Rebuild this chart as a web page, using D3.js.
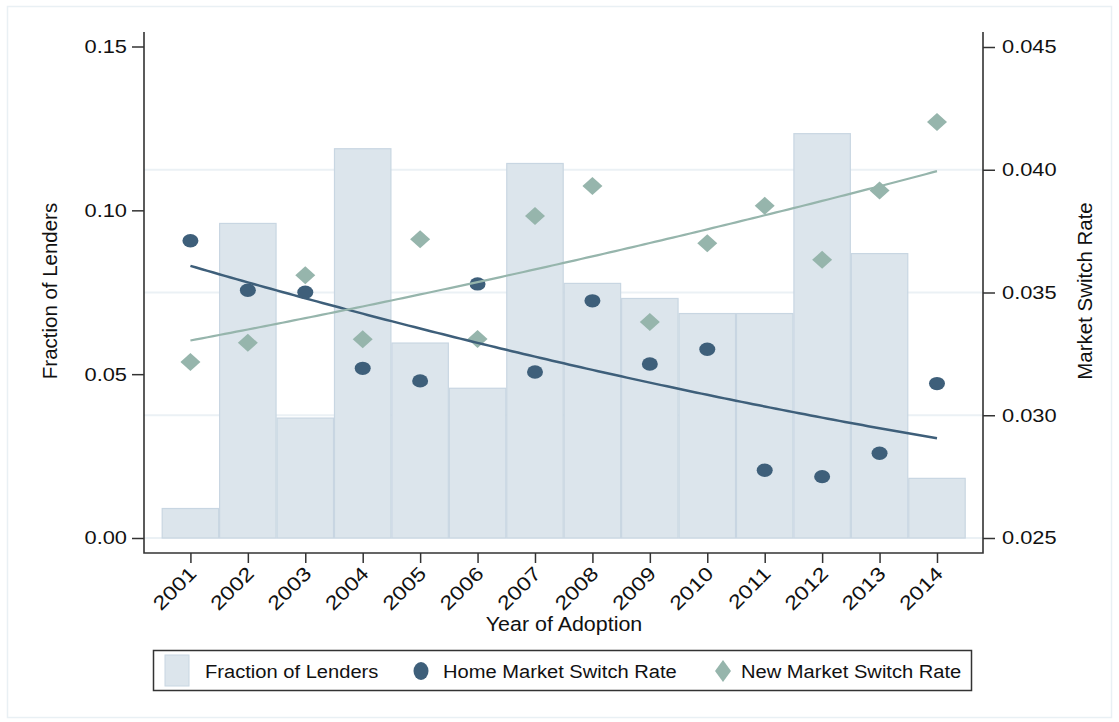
<!DOCTYPE html>
<html>
<head>
<meta charset="utf-8">
<script src="https://cdn.jsdelivr.net/npm/d3@7"></script>
<style>
  body { margin: 0; background: #fff; }
  svg text { font-family: "Liberation Sans", Arial, Helvetica, sans-serif; fill: #111; }
</style>
</head>
<body>
<div id="chart"></div>
<script>
// DATA
const years = [2001, 2002, 2003, 2004, 2005, 2006, 2007, 2008, 2009, 2010, 2011, 2012, 2013, 2014];
const fractionLenders = [0.0090, 0.0960, 0.0366, 0.1188, 0.0595, 0.0457, 0.1143, 0.0777, 0.0731, 0.0685, 0.0685, 0.1234, 0.0868, 0.0182];
const homeRate = [0.03711, 0.03509, 0.03501, 0.03191, 0.03140, 0.03535, 0.03176, 0.03466, 0.03209, 0.03269, 0.02776, 0.02750, 0.02845, 0.03129];
const newRate = [0.03217, 0.03295, 0.03570, 0.03310, 0.03717, 0.03311, 0.03812, 0.03934, 0.03380, 0.03701, 0.03853, 0.03633, 0.03915, 0.04194];
const leftTicks = [0, 0.05, 0.10, 0.15];
const rightTicks = [0.025, 0.030, 0.035, 0.040, 0.045];
const gridTicks = [0.025, 0.030, 0.035, 0.040];
const legendLabels = ['Fraction of Lenders', 'Home Market Switch Rate', 'New Market Switch Rate'];

// COLORS
const barFill = '#dce5ec';
const barStroke = '#c8d6e2';
const homeColor = '#3e5f7a';
const newColor = '#96b5ac';
const gridColor = '#ebf1f5';
const axisColor = '#333';

const W = 1119, H = 722;
const svg = d3.select('#chart').append('svg').attr('width', W).attr('height', H);

// outer frame
svg.append('rect').attr('x', 7.5).attr('y', 6.5).attr('width', 1104).attr('height', 711)
   .attr('fill', 'none').attr('stroke', '#e9f0f4').attr('stroke-width', 1.5);

// scales
const x = d3.scaleLinear().domain([2000.5, 2014.5]).range([161.7, 965.7]);
const yL = d3.scaleLinear().domain([0, 0.15]).range([538, 46.5]);
const yR = d3.scaleLinear().domain([0.025, 0.045]).range([538, 47]);
const plotL = 144, plotR = 983, plotTop = 32, plotBot = 553;

// gridlines (right axis)
svg.append('g').selectAll('line').data(gridTicks).enter().append('line')
   .attr('x1', plotL).attr('x2', plotR)
   .attr('y1', d => yR(d)).attr('y2', d => yR(d))
   .attr('stroke', gridColor).attr('stroke-width', 2);

// bars
svg.append('g').selectAll('rect').data(years).enter().append('rect')
   .attr('x', d => x(d - 0.5) + 0.5)
   .attr('width', d => x(d + 0.5) - x(d - 0.5) - 1)
   .attr('y', (d, i) => yL(fractionLenders[i]))
   .attr('height', (d, i) => yL(0) - yL(fractionLenders[i]))
   .attr('fill', barFill).attr('stroke', barStroke).attr('stroke-width', 1.2);

// quadratic fit, like stata qfit
function qfit(xs, ys) {
  const c = d3.mean(xs);
  let s = [0, 0, 0, 0, 0], b = [0, 0, 0];
  xs.forEach(function(xv, i) {
    const t = xv - c;
    for (let k = 0; k < 5; k++) s[k] += Math.pow(t, k);
    for (let k = 0; k < 3; k++) b[k] += Math.pow(t, k) * ys[i];
  });
  // solve 3x3 with cramer
  const M = [[s[0], s[1], s[2]], [s[1], s[2], s[3]], [s[2], s[3], s[4]]];
  const det = m => m[0][0]*(m[1][1]*m[2][2]-m[1][2]*m[2][1]) - m[0][1]*(m[1][0]*m[2][2]-m[1][2]*m[2][0]) + m[0][2]*(m[1][0]*m[2][1]-m[1][1]*m[2][0]);
  const D = det(M);
  const coef = [0, 1, 2].map(function(j) {
    const Mj = M.map((row, r) => row.map((v, col) => col === j ? b[r] : v));
    return det(Mj) / D;
  });
  return xv => coef[0] + coef[1] * (xv - c) + coef[2] * (xv - c) * (xv - c);
}
const homeFit = qfit(years, homeRate);
const newFit = qfit(years, newRate);
const fitX = d3.range(0, 131).map(k => years[0] + k * (years[years.length - 1] - years[0]) / 130);

const line = f => d3.line().x(d => x(d)).y(d => yR(f(d)))(fitX);

// markers
svg.append('g').selectAll('ellipse').data(years).enter().append('ellipse')
   .attr('cx', d => x(d)).attr('cy', (d, i) => yR(homeRate[i]))
   .attr('rx', 8).attr('ry', 6.7).attr('fill', homeColor);

svg.append('g').selectAll('path').data(years).enter().append('path')
   .attr('transform', (d, i) => 'translate(' + x(d) + ',' + yR(newRate[i]) + ')')
   .attr('d', 'M0,-9L10,0L0,9L-10,0Z').attr('fill', newColor);

// fit lines
svg.append('path').attr('d', line(homeFit)).attr('fill', 'none').attr('stroke', homeColor).attr('stroke-width', 2.5);
svg.append('path').attr('d', line(newFit)).attr('fill', 'none').attr('stroke', newColor).attr('stroke-width', 2.2);

// axes
function styleAxis(g) {
  g.select('.domain').remove();
  g.selectAll('.tick line').attr('stroke', axisColor).attr('stroke-width', 1.5);
  g.selectAll('.tick text').style('font-size', '18.5px').attr('fill', '#111');
}

const gL = svg.append('g').attr('transform', 'translate(' + plotL + ',0)')
   .call(d3.axisLeft(yL).tickValues(leftTicks).tickFormat(d3.format('.2f')).tickSize(12).tickPadding(5));
styleAxis(gL);
gL.selectAll('.tick text').attr('x', 0).attr('transform', 'translate(-17,0) scale(1.18,1)');

const gR = svg.append('g').attr('transform', 'translate(' + plotR + ',0)')
   .call(d3.axisRight(yR).tickValues(rightTicks).tickFormat(d3.format('.3f')).tickSize(12).tickPadding(5));
styleAxis(gR);
gR.selectAll('.tick text').attr('x', 0).attr('transform', 'translate(19,0) scale(1.18,1)');

const gX = svg.append('g').attr('transform', 'translate(0,' + plotBot + ')')
   .call(d3.axisBottom(x).tickValues(years).tickFormat(d3.format('d')).tickSize(10));
styleAxis(gX);
gX.selectAll('.tick text').attr('x', 0).attr('y', 0).attr('dy', '0.35em')
   .style('font-size', '19.5px')
   .attr('text-anchor', 'end')
   .attr('transform', 'translate(2,17) rotate(-45) scale(1.2,1)');

// axis lines
svg.append('path')
   .attr('d', 'M' + plotL + ',' + plotTop + 'V' + plotBot + 'H' + plotR + 'V' + plotTop)
   .attr('fill', 'none').attr('stroke', axisColor).attr('stroke-width', 1.6);

// axis titles
svg.append('text').attr('transform', 'translate(57,291) rotate(-90) scale(1.05,1)')
   .attr('text-anchor', 'middle').style('font-size', '19.5px').text('Fraction of Lenders');
svg.append('text').attr('transform', 'translate(1092,291) rotate(-90) scale(1.05,1)')
   .attr('text-anchor', 'middle').style('font-size', '19.5px').text('Market Switch Rate');
svg.append('text').attr('transform', 'translate(564,631) scale(1.1,1)')
   .attr('text-anchor', 'middle').style('font-size', '19.5px').text('Year of Adoption');

// legend
const lg = svg.append('g');
lg.append('rect').attr('x', 153.5).attr('y', 650.5).attr('width', 818).attr('height', 40)
  .attr('fill', '#fff').attr('stroke', axisColor).attr('stroke-width', 1.5);
lg.append('rect').attr('x', 165).attr('y', 655).attr('width', 24).attr('height', 31)
  .attr('fill', barFill).attr('stroke', barStroke);
lg.append('ellipse').attr('cx', 421).attr('cy', 671).attr('rx', 7.5).attr('ry', 9).attr('fill', homeColor);
lg.append('path').attr('transform', 'translate(723,671)').attr('d', 'M0,-11L8,0L0,11L-8,0Z').attr('fill', newColor);
const legX = [205, 443, 741];
lg.selectAll('text.leg').data(legendLabels).enter().append('text').attr('class', 'leg')
  .attr('transform', (d, i) => 'translate(' + legX[i] + ',678) scale(1.06,1)')
  .style('font-size', '19px').text(d => d);
</script>
</body>
</html>
